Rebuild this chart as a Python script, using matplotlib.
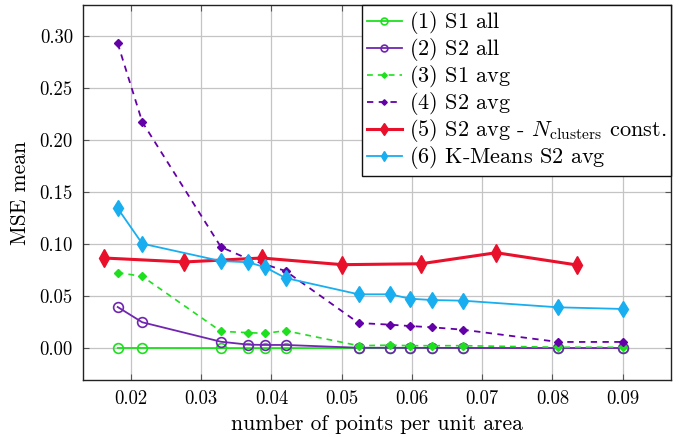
import matplotlib
matplotlib.use("Agg")
import matplotlib.pyplot as plt

plt.rcParams['font.family'] = ['cmr10']
plt.rcParams['mathtext.fontset'] = 'cm'
plt.rcParams['axes.formatter.use_mathtext'] = True
plt.rcParams['axes.unicode_minus'] = False

# data
x_all = [0.0181, 0.0216, 0.0328, 0.0367, 0.0391, 0.0420, 0.0524, 0.0569,
         0.0597, 0.0628, 0.0672, 0.0808, 0.0901]
s1_all = [0.0003, 0.0003, 0.0002, 0.0002, 0.0002, 0.0002, 0.0002, 0.0002,
          0.0002, 0.0002, 0.0002, 0.0002, 0.0002]
s2_all = [0.0397, 0.0250, 0.0063, 0.0035, 0.0032, 0.0032, 0.0005, 0.0005,
          0.0004, 0.0004, 0.0003, 0.0002, 0.0002]
s1_avg = [0.0727, 0.0692, 0.0163, 0.0150, 0.0144, 0.0169, 0.0025, 0.0030,
          0.0025, 0.0025, 0.0025, 0.0010, 0.0010]
x_s2avg = [0.0181, 0.0216, 0.0328, 0.0367, 0.0420, 0.0524, 0.0569, 0.0597,
           0.0628, 0.0672, 0.0808, 0.0901]
s2_avg = [0.2933, 0.2176, 0.0974, 0.0859, 0.0743, 0.0243, 0.0227, 0.0214,
          0.0202, 0.0179, 0.0061, 0.0061]
x_const = [0.0162, 0.0276, 0.0386, 0.0501, 0.0613, 0.0720, 0.0835]
s2_const = [0.0868, 0.0830, 0.0868, 0.0804, 0.0813, 0.0919, 0.0801]
kmeans = [0.1346, 0.1006, 0.0839, 0.0827, 0.0779, 0.0676, 0.0519, 0.0519,
          0.0477, 0.0464, 0.0458, 0.0394, 0.0378]

labels = [r"$\mathbf{(1)}$ S1 all",
          r"$\mathbf{(2)}$ S2 all",
          r"$\mathbf{(3)}$ S1 avg",
          r"$\mathbf{(4)}$ S2 avg",
          r"$\mathbf{(5)}$ S2 avg - $N_{\mathrm{clusters}}$ const.",
          r"$\mathbf{(6)}$ K-Means S2 avg"]
xticks = [0.02, 0.03, 0.04, 0.05, 0.06, 0.07, 0.08, 0.09]
yticks = [0.00, 0.05, 0.10, 0.15, 0.20, 0.25, 0.30]

green = '#1ee01e'
purple = '#7026b0'
purple_d = '#6400a8'
red = '#e8102a'
cyan = '#18aef0'

fig = plt.figure(figsize=(6.88, 4.37), dpi=100)
ax = fig.add_axes([82.7/688, 1-380/437, (671-82.7)/688, (380-5)/437])

ax.plot(x_all, s1_all, color=green, lw=1.3, marker='o', ms=7, mfc='none',
        mew=1.2, label=labels[0], zorder=3)
ax.plot(x_all, s2_all, color=purple, lw=1.3, marker='o', ms=7, mfc='none',
        mew=1.2, label=labels[1], zorder=4)
ax.plot(x_all, s1_avg, color=green, lw=1.2, ls=(0, (3.5, 3)), marker='D', ms=4,
        label=labels[2], zorder=5)
ax.plot(x_s2avg, s2_avg, color=purple_d, lw=1.3, ls=(0, (3.5, 3)), marker='D', ms=4,
        label=labels[3], zorder=6)
ax.plot(x_const, s2_const, color=red, lw=2.2, marker='d', ms=9,
        label=labels[4], zorder=7)
ax.plot(x_all, kmeans, color=cyan, lw=1.3, marker='d', ms=8,
        label=labels[5], zorder=8)

ax.set_xlim(0.01312, 0.09688)
ax.set_ylim(-0.0305, 0.3301)
ax.set_xticks(xticks)
ax.set_yticks(yticks)
ax.set_xticklabels([f"{v:.2f}" for v in xticks])
ax.set_yticklabels([f"{v:.2f}" for v in yticks])
ax.tick_params(direction='in', length=4, width=0.8, color='#555555',
               top=True, right=True, labelsize=13.5, pad=7)
ax.grid(True, color='#c4c4c4', lw=0.9)
ax.set_axisbelow(True)
for s in ax.spines.values():
    s.set_linewidth(1.0)
    s.set_color('#222222')

ax.set_xlabel("number of points per unit area", fontsize=15.5, labelpad=5)
ax.set_ylabel("MSE mean", fontsize=15.5, labelpad=7)

leg = ax.legend(loc='upper right', bbox_to_anchor=(1.0, 1.0), borderaxespad=0,
                fontsize=16, frameon=True, fancybox=False, edgecolor='#111111',
                framealpha=1, handlelength=1.6, handletextpad=0.3,
                labelspacing=0.0, borderpad=0.2, markerscale=0.7)
leg.get_frame().set_linewidth(1.0)

fig.savefig("out.png", dpi=100)
